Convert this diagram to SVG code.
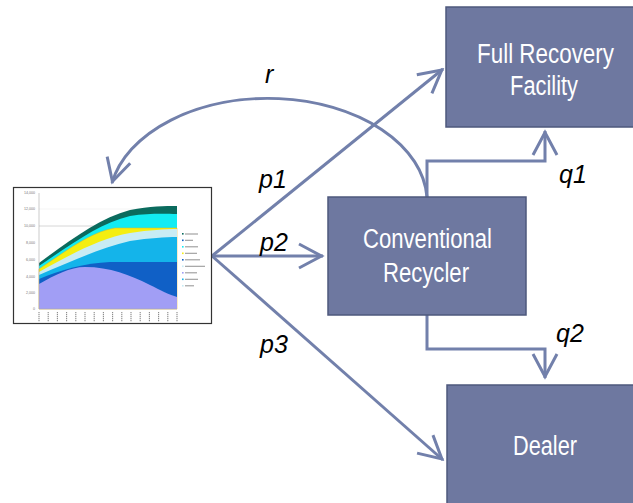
<svg xmlns="http://www.w3.org/2000/svg" width="633" height="503" viewBox="0 0 633 503">
<style>
.box{fill:#6e78a0;stroke:#4e587c;stroke-width:1.5}
.bt{font-family:"Liberation Sans",Arial,sans-serif;font-size:28px;fill:#ffffff;text-anchor:middle}
.lbl{font-family:"Liberation Sans",Arial,sans-serif;font-size:25px;font-style:italic;fill:#000000}
.con{fill:none;stroke:#7280ab;stroke-width:3}
.ax{font-family:"Liberation Sans",Arial,sans-serif;font-size:3.6px;fill:#777;text-anchor:end}
.tick{stroke:#8a8a8a;stroke-width:1.1;stroke-dasharray:1.2 0.8}
.leg{stroke:#9a9a9a;stroke-width:1.1}
</style>
<defs>
<marker id="ah" markerUnits="userSpaceOnUse" markerWidth="30" markerHeight="30" refX="0" refY="0" orient="auto" style="overflow:visible">
<path d="M-24,-12 L-1.5,0 L-24,12" fill="none" stroke="#7280ab" stroke-width="3" stroke-linejoin="miter"/>
</marker>
</defs>

<g id="connectors">
<path class="con" d="M212,256 L443,69" marker-end="url(#ah)"/>
<path class="con" d="M212,256 L323,256" marker-end="url(#ah)"/>
<path class="con" d="M212,256 L443,460" marker-end="url(#ah)"/>
<path class="con" d="M427,197 V161 H545 V131" marker-end="url(#ah)"/>
<path class="con" d="M427,315 V349 H545 V378" marker-end="url(#ah)"/>
<path class="con" d="M427,197 A159,104 0 0 0 112,183" marker-end="url(#ah)"/>
<text class="lbl" x="265" y="83">r</text>
<text class="lbl" x="259" y="188">p1</text>
<text class="lbl" x="260" y="251">p2</text>
<text class="lbl" x="260" y="353">p3</text>
<text class="lbl" x="559" y="183">q1</text>
<text class="lbl" x="556" y="342">q2</text>
</g>

<g id="node-chart">
<rect x="13.5" y="187.5" width="198" height="136" fill="#ffffff" stroke="#333333" stroke-width="1.2"/>
<line x1="39" y1="226" x2="177" y2="226" stroke="#cccccc" stroke-width="0.8"/>
<line x1="39" y1="209" x2="177" y2="209" stroke="#eeeeee" stroke-width="0.6"/>
<path d="M39,263 C70,240 100,218 130,210 C150,206 165,206 177,206 L177,309 L39,309 Z" fill="#0b6b5e"/>
<path d="M39,266 C70,245 100,223 130,216 C150,213 165,214 177,214 L177,309 L39,309 Z" fill="#12ecf2"/>
<path d="M39,269 C65,252 90,232 115,228 L177,228 L177,309 L39,309 Z" fill="#f4ee10" stroke="#e8b020" stroke-width="0.5"/>
<path d="M39,272 C70,255 100,238 130,233 C150,230 165,229 177,229 L177,309 L39,309 Z" fill="#c8ecf4"/>
<path d="M39,275 C70,262 100,248 130,241 C150,238 165,237 177,237 L177,309 L39,309 Z" fill="#14b4ea"/>
<path d="M39,279 C60,270 85,263 110,262 L177,262 L177,309 L39,309 Z" fill="#1060c6"/>
<path d="M39,284 C55,275 70,267 85,267 C110,267 130,275 150,285 C160,290 170,295 177,297 L177,309 L39,309 Z" fill="#a19ef5"/>
<line x1="39" y1="193" x2="39" y2="309" stroke="#aaaaaa" stroke-width="0.6"/>
<line x1="39" y1="309" x2="177" y2="309" stroke="#aaaaaa" stroke-width="0.6"/>
<text class="ax" x="35" y="194">14,000</text>
<text class="ax" x="35" y="210">12,000</text>
<text class="ax" x="35" y="227">10,000</text>
<text class="ax" x="35" y="244">8,000</text>
<text class="ax" x="35" y="261">6,000</text>
<text class="ax" x="35" y="278">4,000</text>
<text class="ax" x="35" y="294">2,000</text>
<text class="ax" x="35" y="310">0</text>
<g class="tick">
<line x1="39" y1="312" x2="39" y2="322"/><line x1="48.2" y1="312" x2="48.2" y2="322"/><line x1="57.4" y1="312" x2="57.4" y2="322"/><line x1="66.6" y1="312" x2="66.6" y2="322"/>
<line x1="75.8" y1="312" x2="75.8" y2="322"/><line x1="85" y1="312" x2="85" y2="322"/><line x1="94.2" y1="312" x2="94.2" y2="322"/><line x1="103.4" y1="312" x2="103.4" y2="322"/>
<line x1="112.6" y1="312" x2="112.6" y2="322"/><line x1="121.8" y1="312" x2="121.8" y2="322"/><line x1="131" y1="312" x2="131" y2="322"/><line x1="140.2" y1="312" x2="140.2" y2="322"/>
<line x1="149.4" y1="312" x2="149.4" y2="322"/><line x1="158.6" y1="312" x2="158.6" y2="322"/><line x1="167.8" y1="312" x2="167.8" y2="322"/><line x1="177" y1="312" x2="177" y2="322"/>
</g>
<g>
<rect x="182" y="233" width="1.6" height="1.6" fill="#0b6b5e"/><line class="leg" x1="185" y1="234" x2="198" y2="234"/>
<rect x="182" y="239.5" width="1.6" height="1.6" fill="#1060c6"/><line class="leg" x1="185" y1="240.3" x2="193" y2="240.3"/>
<rect x="182" y="246" width="1.6" height="1.6" fill="#12ecf2"/><line class="leg" x1="185" y1="246.8" x2="198" y2="246.8"/>
<rect x="182" y="252.5" width="1.6" height="1.6" fill="#f4ee10"/><line class="leg" x1="185" y1="253.3" x2="197" y2="253.3"/>
<rect x="182" y="259" width="1.6" height="1.6" fill="#1060c6"/><line class="leg" x1="185" y1="259.8" x2="200" y2="259.8"/>
<rect x="182" y="265.5" width="1.6" height="1.6" fill="#c8ecf4"/><line class="leg" x1="185" y1="266.3" x2="205" y2="266.3"/>
<rect x="182" y="272" width="1.6" height="1.6" fill="#a19ef5"/><line class="leg" x1="185" y1="272.8" x2="197" y2="272.8"/>
<rect x="182" y="278.5" width="1.6" height="1.6" fill="#14b4ea"/><line class="leg" x1="185" y1="279.3" x2="198" y2="279.3"/>
<rect x="182" y="285" width="1.6" height="1.6" fill="#c8ecf4"/><line class="leg" x1="185" y1="285.8" x2="194" y2="285.8"/>
</g>
</g>

<g id="node-frf">
<rect class="box" x="446" y="7" width="199" height="120"/>
<text class="bt" transform="translate(545.5,63) scale(0.8,1)">Full Recovery</text>
<text class="bt" transform="translate(544,95) scale(0.78,1)">Facility</text>
</g>

<g id="node-cr">
<rect class="box" x="328" y="197" width="198" height="118"/>
<text class="bt" transform="translate(427.5,248) scale(0.79,1)">Conventional</text>
<text class="bt" transform="translate(426,282) scale(0.79,1)">Recycler</text>
</g>

<g id="node-dealer">
<rect class="box" x="447" y="385" width="198" height="125"/>
<text class="bt" transform="translate(545,455) scale(0.776,1)">Dealer</text>
</g>
</svg>
